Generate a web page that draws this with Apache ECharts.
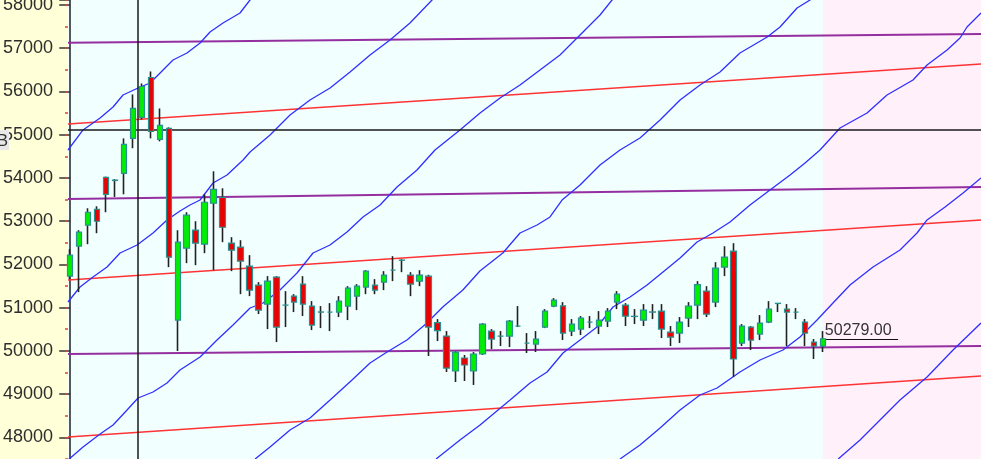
<!DOCTYPE html>
<html>
<head>
<meta charset="utf-8">
<script src="https://cdn.jsdelivr.net/npm/echarts@6/dist/echarts.min.js"></script>
<style>html,body{margin:0;padding:0;background:#ffffd8;}#c{width:981px;height:459px;}</style>
</head>
<body>
<div id="c"></div>
<script>
// ---- candle data (bar index = position in arrays) ----
const opens  = [51727,52420,52906,53275,54014,53940,54104,54915,55399,56323, 54892,55146,50711,52375,52790,52467,53414,53552,52490,52398, 51959,51520,51081,51705,51058,51265,51543,51035,50900,50896, 50896,51035,51265,51473,51520,51589,51866,52100,51751,51612, 51728,50654,50341,49533,49834,49533,49926,50457,50341,50341, 50573,50180,50157,50550,51035,51040,50457,50503,50665,50573, 50688,51127,51058,50800,50711,50900,50919,50434,50411,50757, 51058,51381,51127,51936,52305,50180,50550,50388,50665,51100, 50965,50896,50665,50203,50110];
const closes = [52213,52744,53206,52998,53621,53950,54774,55607,56115,55076, 55215,52167,52513,53137,52490,53437,53737,52859,52328,52074, 51404,50942,51612,50550,51058,51127,51081,50596,50895,50896, 51150,51450,51496,51843,51404,51751,51866,52095,51543,51751, 50550,50468,49602,49972,49672,49926,50619,50272,50341,50688, 50573,50180,50272,50919,51173,50410,50619,50757,50665,50711, 50919,51311,50804,50795,50942,50895,50503,50318,50665,51035, 51530,50850,51912,52167,49811,50573,50249,50642,50965,51095, 50896,50896,50411,50110,50279];
const highs  = [52351,52790,53298,53344,54030,53970,54915,55931,56185,56462, 55607,55170,52790,53206,52998,53621,54153,53760,52629,52559, 52213,51590,51728,51728,51381,51311,51728,51150,51035,51104, 51265,51496,51543,51866,51658,51843,52190,52120,51820,51866, 51760,50734,50457,49990,49903,49972,50640,50503,50457,50711, 51035,50411,50457,50965,51219,51127,50734,50804,50804,50919, 50988,51381,51104,50965,51081,51081,51081,50573,50781,51127, 51612,51496,52051,52420,52490,50619,50573,50827,51150,51104, 51081,50988,50734,50272,50457];
const lows   = [51658,51358,52467,52721,53206,53560,53621,54686,55353,54915, 54846,51936,49995,52028,51982,52259,51866,52513,51843,51311, 51265,50850,50503,50203,50550,50896,50804,50480,50526,50457, 50781,50711,50942,51311,51311,51404,51612,51820,51265,51496, 49880,50226,49510,49279,49302,49210,49903,50041,50110,50087, 50550,49949,49972,50526,51010,50249,50341,50365,50526,50388, 50550,50965,50573,50619,50573,50734,50295,50110,50180,50550, 50734,50781,51012,51728,49395,50110,50018,50249,50642,50896, 50110,50734,50110,49811,49972];

// ---- y-axis ticks ----
const yMin = 47000, yMax = 58116, yMajor = 1000, yMinor = 500;

// ---- crosshair ----
const crossPrice = 55110, crossIndex = 7.5;

// ---- x extent (bar index) ----
const xMin = -0.25, xMax = 101.65;
const futureStart = 84;

// ---- purple levels [index, price] ----
const purple1 = [[-0.25,57128],[101.65,57329]];
const purple2 = [[-0.25,53512],[101.65,53790]];
const purple3 = [[-0.25,49927],[101.65,50112]];

// ---- red channel lines ----
const red1 = [[-0.25,55247],[101.65,56635]];
const red2 = [[-0.25,51639],[101.65,53027]];
const red3 = [[-0.25,48006],[101.65,49418]];

// ---- blue wavy lines ----
const blueB = [[-0.25,54646],[1.43,55109],[3.33,55386],[4.78,55641],[5.89,55918],[7.57,56080],[8.91,56196],[10.36,56497],[11.47,56728],[13.03,56890],[14.49,57121],[15.60,57376],[17.05,57584],[18.95,57815],[20.06,58116],[21.40,58347]];
const blueC = [[-0.25,51130],[1.09,51477],[2.54,51708],[4.11,51939],[5.56,52263],[7.46,52448],[9.24,52726],[10.80,53027],[12.25,53235],[13.37,53374],[14.49,53489],[15.94,53882],[17.50,54068],[19.29,54415],[20.07,54600],[22.30,54993],[24.53,55456],[26.76,55803],[29.00,56080],[31.23,56450],[33.46,56844],[35.69,57191],[37.92,57584],[40.38,58116],[41.83,58394]];
const blueA = [[-0.25,47474],[1.43,47775],[3.33,48076],[4.78,48284],[6.34,48631],[7.57,48909],[9.24,49047],[10.80,49256],[12.25,49556],[14.49,49857],[16.38,50250],[18.17,50597],[20.07,50991],[21.52,51106],[23.41,51407],[25.31,51800],[27.10,52263],[28.99,52448],[30.89,52749],[32.68,53096],[34.58,53374],[36.47,53790],[38.70,54183],[40.71,54646],[43.50,55109],[45.74,55502],[47.97,55849],[50.20,56150],[52.43,56497],[54.66,56844],[56.90,57306],[59.13,57769],[60.47,58116],[61.92,58394]];
const blueD = [[20.63,47497],[22.30,47775],[24.53,48168],[26.76,48446],[29.00,48862],[31.45,49325],[33.46,49718],[35.36,49973],[37.58,50250],[39.81,50644],[41.58,51014],[43.82,51407],[45.72,51847],[48.28,52263],[50.20,52726],[52.10,52911],[53.55,53096],[54.89,53489],[56.90,53836],[59.13,54299],[61.36,54646],[63.59,54924],[65.83,55340],[68.06,55803],[70.29,56150],[72.52,56450],[74.75,56890],[77.79,57260],[79.22,57491],[81.12,57931],[82.57,58116],[83.91,58347]];
const blueE = [[40.83,47497],[43.50,47937],[45.74,48284],[49.09,48862],[51.32,49256],[53.22,49510],[55.00,49950],[56.90,50250],[58.79,50551],[60.58,51014],[62.48,51245],[64.38,51523],[66.16,51824],[68.06,52147],[69.96,52518],[71.74,52726],[73.64,52980],[75.87,53374],[78.10,53721],[80.34,54068],[82.01,54345],[83.68,54646],[85.92,55155],[88.93,55502],[91.16,55918],[94.06,56265],[95.63,56612],[97.86,56959],[99.31,57237],[100.09,57491],[101.65,57815]];
const blueF = [[61.36,47498],[63.59,47821],[65.83,48215],[68.06,48631],[70.29,48978],[72.19,49140],[74.75,49510],[76.99,49788],[79.55,50019],[81.45,50320],[83.35,50713],[85.13,51106],[87.03,51523],[89.60,51939],[92.61,52332],[94.51,52726],[95.63,53027],[97.64,53327],[99.65,53651],[101.65,53998]];
const blueG = [[85.71,47498],[88.15,47937],[90.38,48400],[92.61,48862],[95.63,49395],[98.53,50019],[101.65,50644]];

const wickData = opens.map((o,i)=>[i, o, closes[i], lows[i], highs[i]]);
const bodyData = opens.map((o,i)=>[i, o, closes[i], Math.min(o,closes[i]), Math.max(o,closes[i])]);
const lastIdx = closes.length - 1;
const lastClose = closes[lastIdx];

function lineSeries(data, color, width, z) {
  return {type:'line', data, showSymbol:false, symbol:'none', silent:true, z,
    lineStyle:{color, width}, xAxisIndex:0, yAxisIndex:0};
}

const chart = echarts.init(document.getElementById('c'), null, {renderer:'canvas'});
chart.setOption({
  animation:false,
  backgroundColor:'#ffffd8',
  grid:{left:68, top:0, width:913, height:480.5, show:true, backgroundColor:'#f2ffff', borderWidth:0,
        containLabel:false, outerBoundsMode:'none'},
  xAxis:{type:'value', min:xMin, max:xMax, show:false},
  yAxis:[
    {type:'value', min:yMin, max:yMax, interval:yMajor, position:'left',
     axisLine:{show:true, lineStyle:{color:'#222', width:1.5}},
     axisTick:{show:true, length:11, lineStyle:{color:'#333', width:1.5}},
     axisLabel:{margin:15, fontSize:18, color:'#2e2e2e', fontFamily:'Liberation Sans',
       formatter:(v)=> (v % yMajor === 0 ? String(v) : '')},
     splitLine:{show:false}},
    {type:'value', min:yMin, max:yMax, interval:yMinor, position:'left',
     axisLine:{show:false}, axisTick:{show:true, length:3, lineStyle:{color:'#e04040', width:1.5}},
     axisLabel:{show:false}, splitLine:{show:false}}
  ],
  series:[
    {type:'line', data:[], silent:true, z:1,
     markArea:{silent:true, itemStyle:{color:'#fff0fa'}, data:[[{xAxis:futureStart},{xAxis:xMax}]]}},
    lineSeries(purple1,'#952fa0',2,2),
    lineSeries(purple2,'#952fa0',2,2),
    lineSeries(purple3,'#952fa0',2,2),
    lineSeries(red1,'#ff3333',1.6,2),
    lineSeries(red2,'#ff3333',1.6,2),
    lineSeries(red3,'#ff3333',1.6,2),
    lineSeries(blueA,'#2f2fff',1.3,3),
    lineSeries(blueB,'#2f2fff',1.3,3),
    lineSeries(blueC,'#2f2fff',1.3,3),
    lineSeries(blueD,'#2f2fff',1.3,3),
    lineSeries(blueE,'#2f2fff',1.3,3),
    lineSeries(blueF,'#2f2fff',1.3,3),
    lineSeries(blueG,'#2f2fff',1.3,3),
    {type:'candlestick', data:wickData, encode:{x:0, y:[1,2,3,4]}, barWidth:1, z:4, silent:true,
     itemStyle:{color:'#222', color0:'#222', borderColor:'#222', borderColor0:'#222', borderColorDoji:'#222', borderWidth:1.6}},
    {type:'candlestick', data:bodyData, encode:{x:0, y:[1,2,3,4]}, barWidth:6, z:5, silent:true,
     itemStyle:{color:'#00ee00', color0:'#ee0000', borderColor:'#2a9090', borderColor0:'#2a9090', borderColorDoji:'#2a9090', borderWidth:1.2},
     markLine:{silent:true, symbol:'none', animation:false,
       lineStyle:{color:'#111', width:1, type:'solid'},
       label:{show:true, position:'insideStartTop', formatter:lastClose.toFixed(2), fontSize:16, color:'#333', fontFamily:'Liberation Sans', distance:[2,0]},
       data:[[{coord:[lastIdx,lastClose]},{coord:[lastIdx+8.4,lastClose]}]]}},
    {type:'line', data:[], silent:true, z:10,
     markLine:{silent:true, symbol:'none', animation:false, label:{show:false},
       lineStyle:{color:'#1a1a1a', width:1.5, type:'solid'},
       data:[{yAxis:crossPrice},{xAxis:crossIndex}]}}
  ],
  graphic:[
    {type:'rect', shape:{x:0,y:130,width:9,height:20}, style:{fill:'#e8e8e8'}, z:100},
    {type:'text', style:{text:'B', x:8, y:141, align:'right', verticalAlign:'middle', fontSize:17, fontFamily:'Liberation Sans', fill:'#333'}, z:101}
  ]
});
</script>
</body>
</html>
